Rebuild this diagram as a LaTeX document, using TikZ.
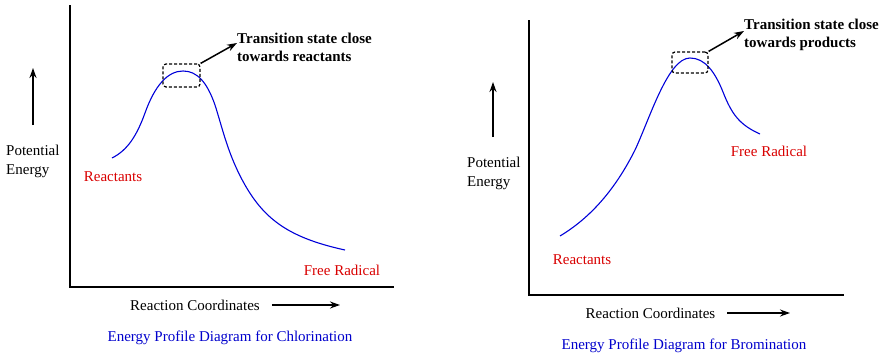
\documentclass[tikz,border=0pt]{standalone}
\usepackage{fontspec}
\setmainfont{Liberation Serif}
\usetikzlibrary{arrows.meta,positioning}

\begin{document}
\begin{tikzpicture}[x=1pt,y=-1pt,
  every node/.style={font=\fontsize{15}{19}\selectfont, inner sep=0pt},
  axis/.style={line width=2pt},
  arr/.style={line width=2pt,-{Stealth[length=10pt,width=7pt]}},
  curve/.style={blue!85!black,line width=1.1pt},
  lbl/.style={align=left,anchor=west},
  species/.style={text=red!85!black},
  tsnote/.style={font=\fontsize{15}{18}\selectfont\bfseries,align=left,anchor=west},
  tsbox/.style={draw,line width=1.2pt,rounded corners=3pt,dash pattern=on 3pt off 2pt},
  caption/.style={text=blue!80!black}]
 \useasboundingbox (0,0) rectangle (887,359);
 % chlorination
 \coordinate (top1) at (70,5);
 \coordinate (o1) at (70,287);
 \coordinate (end1) at (394,287);
 \draw[axis] (top1) -- (o1) -- (end1);
 \coordinate (pl1) at (33,125);
 \coordinate (ph1) at (33,68);
 \draw[arr] (pl1) -- (ph1);
 \node[lbl] (pe1) at (6,161) {Potential\\Energy};
 \draw[curve] (112,158) .. controls (128,150) and (137,135) .. (145,113)
  .. controls (155,85) and (168,71) .. (183,71)
  .. controls (197,71) and (207,82) .. (215,105)
  .. controls (223,130) and (228,155) .. (245,185)
  .. controls (265,220) and (290,238) .. (345,250);
 \node[species] (re1) at (113,177) {Reactants};
 \node[species] (fr1) at (342,270) {Free Radical};
 \node[tsbox,minimum width=37pt,minimum height=23pt] (box1) at (181.5,75.5) {};
 \node[tsnote] (ts1) at (237,47) {Transition state close\\towards reactants};
 \draw[arr,line width=1.5pt] (box1.north east) -- ([yshift=4pt]ts1.west);
 \node (rc1) at (195,305) {Reaction Coordinates};
 \coordinate (ra1) at (340,305);
 \draw[arr] ([xshift=12pt]rc1.east) -- (ra1);
 \node[caption] (cap1) at (230,338) {Energy Profile Diagram for Chlorination};
 % bromination
 \coordinate (top2) at (529,20);
 \coordinate (o2) at (529,295);
 \coordinate (end2) at (844,295);
 \draw[axis] (top2) -- (o2) -- (end2);
 \coordinate (pl2) at (493,137);
 \coordinate (ph2) at (493,82);
 \draw[arr] (pl2) -- (ph2);
 \node[lbl] (pe2) at (467,173) {Potential\\Energy};
 \draw[curve] (560,236) .. controls (590,218) and (615,190) .. (635,150)
  .. controls (650,118) and (668,58) .. (690,58)
  .. controls (705,58) and (715,72) .. (723,92)
  .. controls (732,115) and (740,125) .. (760,134);
 \node[species] (re2) at (582,260) {Reactants};
 \node[species] (fr2) at (769,151) {Free Radical};
 \node[tsbox,minimum width=36pt,minimum height=21pt] (box2) at (690,62.5) {};
 \node[tsnote] (ts2) at (744,35) {Transition state close\\towards products};
 \draw[arr,line width=1.5pt] (box2.north east) -- ([yshift=4pt]ts2.west);
 \node (rc2) at (650.5,313) {Reaction Coordinates};
 \coordinate (ra2) at (790,313);
 \draw[arr] ([xshift=12pt]rc2.east) -- (ra2);
 \node[caption] (cap2) at (684,346) {Energy Profile Diagram for Bromination};
\end{tikzpicture}
\end{document}
